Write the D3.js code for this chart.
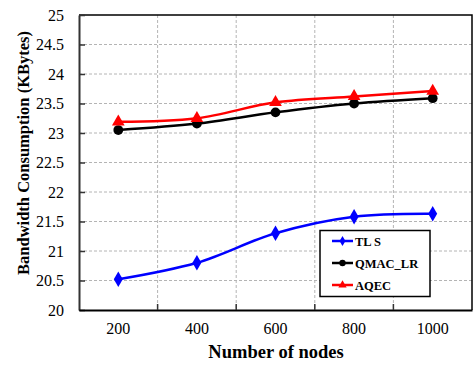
<!DOCTYPE html>
<html>
<head>
<meta charset="utf-8">
<script src="https://cdn.jsdelivr.net/npm/d3@7"></script>
<style>
  html, body { margin: 0; padding: 0; background: #fff; }
  svg { display: block; }
  svg text { font-family: "Liberation Serif", "Times New Roman", serif; }
</style>
</head>
<body>
<svg id="chart" width="473" height="365"></svg>
<script>
// Bandwidth consumption per node count for three schemes
const nodeCounts = ["200", "400", "600", "800", "1000"];
const tlsValues = [20.52, 20.80, 21.30, 21.58, 21.63];
const qmacValues = [23.05, 23.16, 23.35, 23.50, 23.59];
const aqecValues = [23.19, 23.25, 23.52, 23.62, 23.71];
const yTickValues = [20, 20.5, 21, 21.5, 22, 22.5, 23, 23.5, 24, 24.5, 25];

const seriesList = [
  { name: "TLS", label: "TL S", values: tlsValues, color: "#0000ff", symbol: d3.symbolDiamond, size: 70, legendSize: 30 },
  { name: "QMAC_LR", label: "QMAC_LR", values: qmacValues, color: "#000000", symbol: d3.symbolCircle, size: 75, legendSize: 32 },
  { name: "AQEC", label: "AQEC", values: aqecValues, color: "#ff0000", symbol: d3.symbolTriangle, size: 70, legendSize: 30 }
];

const svg = d3.select("#chart");
const plotLeft = 79, plotRight = 472, plotTop = 15, plotBottom = 310;

const x = d3.scaleBand().domain(nodeCounts).range([plotLeft, plotRight]).padding(0);
const y = d3.scaleLinear().domain([20, 25]).range([plotBottom, plotTop]);
const cx = d => x(d) + x.bandwidth() / 2;

const serifFont = "'Liberation Serif', 'Times New Roman', serif";

// grid
const grid = svg.append("g").attr("stroke", "#b4b4b4").attr("stroke-width", 1).attr("stroke-dasharray", "3,2");
yTickValues.filter(v => v > 20 && v < 25).forEach(v => {
  grid.append("line").attr("x1", plotLeft).attr("x2", plotRight).attr("y1", y(v)).attr("y2", y(v));
});
nodeCounts.slice(1).forEach(c => {
  grid.append("line").attr("x1", x(c)).attr("x2", x(c)).attr("y1", plotTop).attr("y2", plotBottom);
});

// frame top/right
svg.append("path")
  .attr("d", `M${plotLeft},${plotTop}H${plotRight}V${plotBottom}`)
  .attr("fill", "none").attr("stroke", "#000").attr("stroke-width", 1.5);

// y axis
const yAxis = svg.append("g")
  .attr("transform", `translate(${plotLeft},0)`)
  .call(d3.axisLeft(y).tickValues(yTickValues).tickSize(-6).tickSizeOuter(0).tickPadding(15).tickFormat(d3.format("")));
yAxis.attr("font-family", null);
yAxis.select(".domain").attr("stroke", "#333").attr("stroke-width", 2);
yAxis.selectAll(".tick line").attr("stroke", "#333").attr("stroke-width", 1.5);
yAxis.selectAll(".tick text").style("font-family", serifFont).style("font-size", "16px").attr("fill", "#000");

// x axis
const xAxis = svg.append("g")
  .attr("transform", `translate(0,${plotBottom})`)
  .call(d3.axisBottom(x).tickSize(0).tickSizeOuter(0).tickPadding(13));
xAxis.attr("font-family", null);
xAxis.select(".domain").attr("stroke", "#000").attr("stroke-width", 2);
xAxis.selectAll(".tick text").style("font-family", serifFont).style("font-size", "16px").attr("fill", "#000");
nodeCounts.slice(1).forEach(c => {
  svg.append("line").attr("x1", x(c)).attr("x2", x(c)).attr("y1", plotBottom).attr("y2", plotBottom - 6)
    .attr("stroke", "#333").attr("stroke-width", 1.5);
});

// axis titles
svg.append("text")
  .attr("x", 276).attr("y", 358)
  .attr("text-anchor", "middle")
  .style("font-family", serifFont).style("font-weight", "bold").style("font-size", "18.5px")
  .text("Number of nodes");

svg.append("text")
  .attr("transform", "translate(29,153) rotate(-90)")
  .attr("text-anchor", "middle")
  .style("font-family", serifFont).style("font-weight", "bold").style("font-size", "16.5px")
  .text("Bandwidth Consumption (KBytes)");

// series
const line = d3.line()
  .x((d, i) => cx(nodeCounts[i]))
  .y(d => y(d))
  .curve(d3.curveCatmullRom.alpha(0.5));

seriesList.forEach(s => {
  svg.append("path")
    .attr("d", line(s.values))
    .attr("fill", "none").attr("stroke", s.color).attr("stroke-width", 2.5);
  svg.append("g").selectAll("path").data(s.values).join("path")
    .attr("transform", (d, i) => `translate(${cx(nodeCounts[i])},${y(d)})`)
    .attr("d", d3.symbol().type(s.symbol).size(s.size))
    .attr("fill", s.color);
});

// legend
const legend = svg.append("g");
legend.append("rect")
  .attr("x", 320).attr("y", 230.5).attr("width", 110).attr("height", 66)
  .attr("fill", "#fff").attr("stroke", "#000").attr("stroke-width", 1.5);
seriesList.forEach((s, i) => {
  const ly = 241 + i * 22;
  legend.append("line").attr("x1", 332).attr("x2", 353).attr("y1", ly).attr("y2", ly)
    .attr("stroke", s.color).attr("stroke-width", 2.5);
  legend.append("path")
    .attr("transform", `translate(342.5,${ly})`)
    .attr("d", d3.symbol().type(s.symbol).size(s.legendSize))
    .attr("fill", s.color);
  legend.append("text")
    .attr("x", 355).attr("y", ly + 4.5)
    .style("font-family", serifFont).style("font-weight", "bold").style("font-size", "12.5px")
    .text(s.label);
});
</script>
</body>
</html>
